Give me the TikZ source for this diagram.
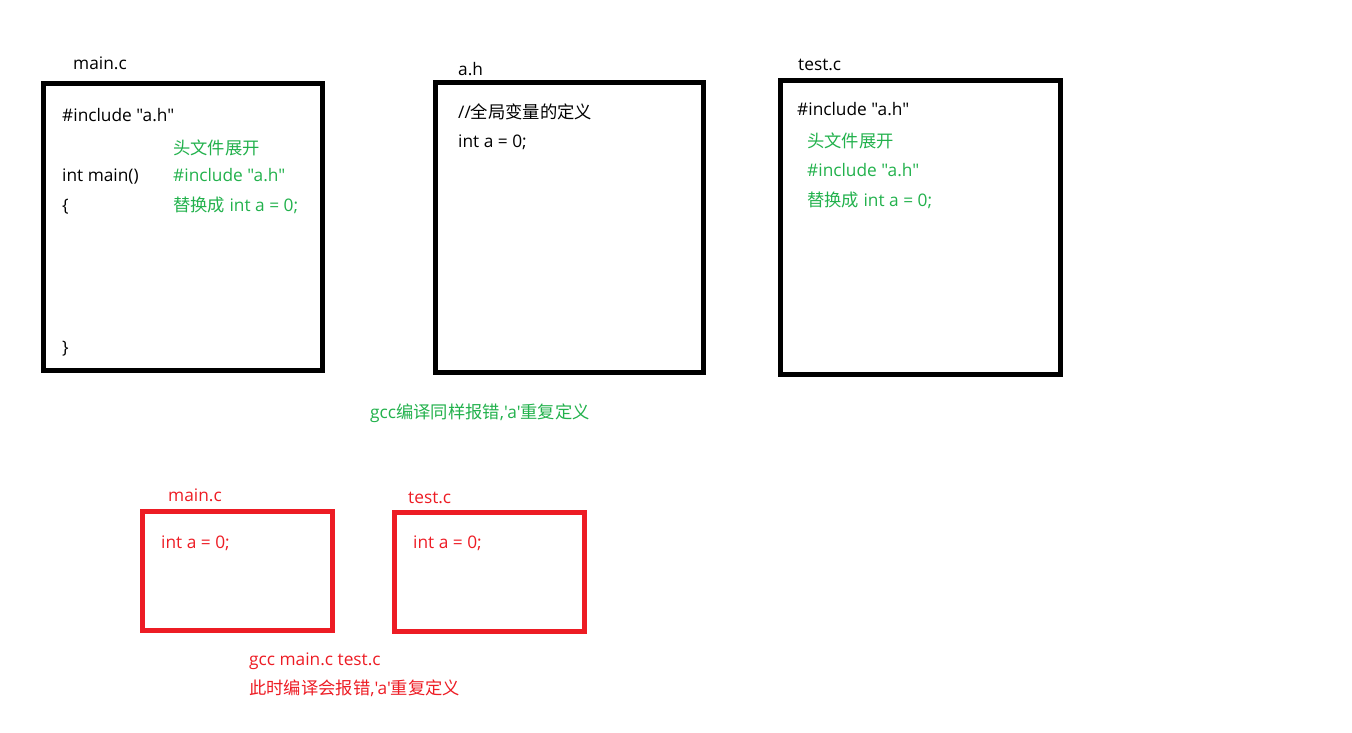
\documentclass[tikz,border=0pt]{standalone}
\usepackage{fontspec}
\setmainfont{Open Sans}[Ligatures=TeXOff]
\newfontfamily\cjk{Noto Sans CJK SC}[Ligatures=TeXOff]
\definecolor{paintgreen}{RGB}{34,177,76}
\definecolor{paintred}{RGB}{237,28,36}

\begin{document}
\begin{tikzpicture}[x=1pt, y=-1pt,
    txt/.style={anchor=base west, inner sep=0, font=\fontsize{17.3}{20}\selectfont},
    g/.style={txt, text=paintgreen},
    r/.style={txt, text=paintred}
  ]
  \useasboundingbox (0,0) rectangle (1352,733);
  % upper row: the three files
  \draw[line width=5pt] (43.5,83.5) rectangle (322.5,370.5) node[pos=0] (mainbox) {};
  \draw[line width=5pt] (435.5,82.5) rectangle (703.5,372.5) node[pos=0] (hbox) {};
  \draw[line width=5pt] (780.5,80.5) rectangle (1060.5,374) node[pos=0] (testbox) {};

  \node[txt] (mainname) at (73,70) {main.c};
  \node[txt] (maininc) at (62,122) {\#include "a.h"};
  \node[g] (mainexp) at (173,154) {\cjk 头文件展开};
  \node[txt] (mainfn) at (62,181) {int main()};
  \node[g] (mainincg) at (173,181) {\#include "a.h"};
  \node[txt] (mainopen) at (62,211) {\{};
  \node[g] (mainrep) at (173,211) {{\cjk 替换成} int a = 0;};
  \node[txt] (mainclose) at (62,353) {\}};

  \node[txt] (hname) at (458,76) {a.h};
  \node[txt] (hcomment) at (458,119) {//{\cjk 全局变量的定义}};
  \node[txt] (hdef) at (458,147) {int a = 0;};

  \node[txt] (testname) at (798,71) {test.c};
  \node[txt] (testinc) at (797,116) {\#include "a.h"};
  \node[g] (testexp) at (807,148) {\cjk 头文件展开};
  \node[g] (testincg) at (807,176) {\#include "a.h"};
  \node[g] (testrep) at (807,206) {{\cjk 替换成} int a = 0;};

  \node[g] (gccnote) at (370,418) {gcc{\cjk 编译同样报错},'a'{\cjk 重复定义}};

  % lower row: after preprocessing
  \draw[paintred, line width=5pt] (142.5,511.5) rectangle (332.3,630) node[pos=0] (mainout) {};
  \draw[paintred, line width=5pt] (394.8,512.5) rectangle (584.2,631.2) node[pos=0] (testout) {};

  \node[r] (mainoutname) at (168,501) {main.c};
  \node[r] (mainoutdef) at (161,548) {int a = 0;};
  \node[r] (testoutname) at (408,503) {test.c};
  \node[r] (testoutdef) at (413,548) {int a = 0;};

  \node[r] (gcccmd) at (249,665) {gcc main.c test.c};
  \node[r] (gccerr) at (249,694) {{\cjk 此时编译会报错},'a'{\cjk 重复定义}};
\end{tikzpicture}
\end{document}
